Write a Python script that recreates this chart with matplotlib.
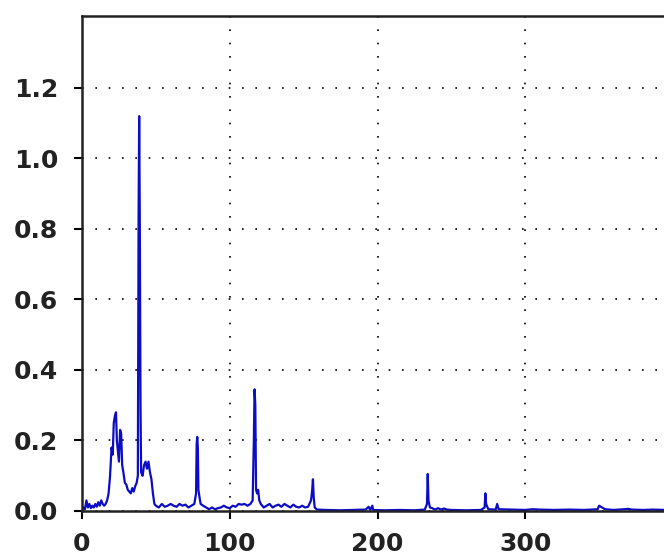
import matplotlib
matplotlib.use('Agg')
import matplotlib.pyplot as plt

# spectrum trace (x, y)
freq = [0, 1, 2, 3, 4, 5, 6, 7, 8, 9, 10, 11, 12, 13, 14, 15, 16, 17, 18, 19,
        20, 20.8, 21.5, 22.3, 23, 23.6, 24.3, 25, 25.8, 26.5, 27.2, 28, 29, 30,
        31, 32, 33, 34, 35, 36, 37, 37.8, 38.3, 38.7, 39.1, 39.6, 40, 41, 42,
        43, 44, 45, 46, 47, 48, 49, 50, 52, 54, 56, 58, 60, 62, 64, 66, 68, 70,
        72, 74, 76, 77.2, 77.6, 78, 78.4, 78.8, 79.5, 80.3, 82, 84, 86, 88, 90,
        92, 94, 96, 98, 100, 102, 104, 106, 108, 110, 112, 114, 115.5, 116.3,
        116.8, 117.3, 117.8, 118.5, 119.2, 120, 121, 123, 125, 127, 129, 131,
        133, 135, 137, 139, 141, 143, 145, 147, 149, 151, 153, 155, 155.8,
        156.3, 156.8, 157.5, 159, 165, 175, 185, 192, 194, 195, 196.5, 197,
        205, 215, 225, 232, 233.5, 234, 234.5, 235.5, 237, 239, 241, 243, 245,
        247, 250, 260, 270, 272.5, 273, 273.5, 275, 280, 281, 282, 290, 300,
        305, 310, 320, 330, 340, 349, 350, 352, 354, 360, 370, 372, 380, 386,
        395, 400]
amp = [0.0, 0.01, 0.005, 0.03, 0.01, 0.02, 0.008, 0.015, 0.01, 0.02, 0.012,
       0.025, 0.015, 0.03, 0.02, 0.015, 0.02, 0.03, 0.05, 0.1,
       0.18, 0.16, 0.25, 0.27, 0.28, 0.2, 0.17, 0.14, 0.23, 0.22, 0.13, 0.11,
       0.08, 0.075, 0.06, 0.055, 0.05, 0.065, 0.055, 0.07, 0.08, 0.1, 0.84,
       1.12, 0.84, 0.3, 0.11, 0.10, 0.13, 0.14, 0.12, 0.14, 0.11, 0.09, 0.05,
       0.02, 0.015, 0.01, 0.02, 0.012, 0.015, 0.02, 0.015, 0.012, 0.02, 0.015,
       0.018, 0.01, 0.015, 0.02, 0.05, 0.19, 0.21, 0.18, 0.06, 0.04, 0.02,
       0.015, 0.01, 0.005, 0.01, 0.005, 0.008, 0.01, 0.015, 0.01, 0.008,
       0.015, 0.012, 0.02, 0.018, 0.02, 0.015, 0.02, 0.03, 0.2, 0.345, 0.3,
       0.06, 0.05, 0.06, 0.03, 0.02, 0.01, 0.015, 0.02, 0.01, 0.015, 0.018,
       0.012, 0.02, 0.015, 0.01, 0.018, 0.012, 0.01, 0.015, 0.01, 0.012,
       0.03, 0.06, 0.09, 0.04, 0.01, 0.004, 0.003, 0.002, 0.003, 0.004,
       0.012, 0.003, 0.015, 0.003, 0.002, 0.003, 0.002, 0.004, 0.02, 0.105,
       0.03, 0.01, 0.008, 0.004, 0.008, 0.004, 0.007, 0.004, 0.003, 0.002,
       0.003, 0.01, 0.05, 0.02, 0.005, 0.004, 0.02, 0.005, 0.004, 0.003,
       0.005, 0.004, 0.003, 0.004, 0.003, 0.005, 0.015, 0.01, 0.005, 0.003,
       0.006, 0.004, 0.003, 0.004, 0.003, 0.003]

xticks = [0, 100, 200, 300]
yticks = [0.0, 0.2, 0.4, 0.6, 0.8, 1.0, 1.2]

fig = plt.figure(figsize=(6.64, 5.59), dpi=100)
ax = fig.add_axes([82 / 664, 48 / 559, 591 / 664, 495 / 559])
ax.plot(freq, amp, color='#0c0cc4', lw=1.6)

ax.set_xlim(0, 400)
ax.set_ylim(0, 1.404)
ax.set_xticks(xticks)
ax.set_yticks(yticks)
ax.set_yticklabels(['%.1f' % v for v in yticks])
ax.grid(True, color='black', linestyle=(0, (1, 7)), lw=1.2)

for s in ax.spines.values():
    s.set_linewidth(1.8)
    s.set_color('#222222')

ax.tick_params(axis='x', direction='out', length=6, width=1.5, pad=9,
               labelsize=18)
ax.tick_params(axis='y', direction='out', length=6, width=1.5, pad=11,
               labelsize=18)
for lab in ax.get_xticklabels() + ax.get_yticklabels():
    lab.set_fontweight('bold')
    lab.set_color('#222222')

fig.savefig('out.png', dpi=100)
